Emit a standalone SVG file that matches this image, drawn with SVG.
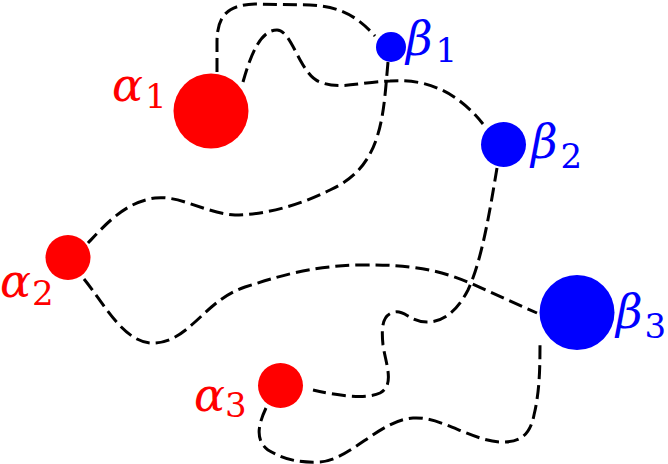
<svg xmlns="http://www.w3.org/2000/svg" width="668" height="464" viewBox="0 0 668 464">
<style>
.red{fill:#ff0000}
.blue{fill:#0000ff}
.lbl{font-family:"DejaVu Serif","Liberation Serif",serif;font-size:46px}
.sym{font-style:italic}
.sub{font-size:34px;font-style:normal}
.edge{fill:none;stroke:#000;stroke-width:3;stroke-dasharray:14,6}
</style>
<rect width="668" height="464" fill="#fff"/>
<g id="connectors">
<path class="edge" d="M217,72 L217,42 C217,15 228,5 255,4 L310,5 C340,6 358,17 375,36"/>
<path class="edge" d="M243,82 C252,50 262,30 277,30 C292,30 300,75 320,82 C340,90 360,82 390,81 C430,78 460,95 483,124"/>
<path class="edge" d="M388,62 L386,85 C382,130 375,170 330,190 C300,205 265,215 235,215 C205,213 180,195 155,198 C125,202 105,225 88,243"/>
<path class="edge" d="M84,279 C105,305 125,345 155,343 C190,341 205,300 245,287 C280,276 310,266 360,265 C410,264 440,270 470,283 L537,313"/>
<path class="edge" d="M497,168 C490,210 482,260 468,290 C455,315 440,322 427,322 C410,322 405,310 395,312 C383,314 381,325 383,345 C386,365 395,385 380,393 C365,400 335,395 313,390"/>
<path class="edge" d="M266,408 C258,425 255,440 268,450 C285,460 300,463 320,462 C350,460 380,420 413,418 C440,416 470,440 500,442 C520,443 530,435 534,415 C540,390 540,365 540,340"/>
</g>
<g id="alpha1"><circle class="red" cx="211" cy="111" r="37.5"/><text class="lbl red" x="112" y="101"><tspan class="sym">α</tspan><tspan class="sub" dx="2" dy="7">1</tspan></text></g>
<g id="alpha2"><circle class="red" cx="68" cy="257.5" r="22.5"/><text class="lbl red" x="0" y="297"><tspan class="sym">α</tspan><tspan class="sub" dx="1" dy="8">2</tspan></text></g>
<g id="alpha3"><circle class="red" cx="280.5" cy="385.5" r="22.5"/><text class="lbl red" x="194" y="411"><tspan class="sym">α</tspan><tspan class="sub" dy="6">3</tspan></text></g>
<g id="beta1"><circle class="blue" cx="391" cy="47" r="15"/><text class="lbl blue" x="406" y="55"><tspan class="sym">β</tspan><tspan class="sub" dx="3" dy="7">1</tspan></text></g>
<g id="beta2"><circle class="blue" cx="503.5" cy="144.5" r="22.5"/><text class="lbl blue" x="531" y="158"><tspan class="sym">β</tspan><tspan class="sub" dx="3" dy="10">2</tspan></text></g>
<g id="beta3"><circle class="blue" cx="577" cy="312.5" r="37.5"/><text class="lbl blue" x="616" y="328"><tspan class="sym">β</tspan><tspan class="sub" dx="2" dy="10">3</tspan></text></g>
</svg>
